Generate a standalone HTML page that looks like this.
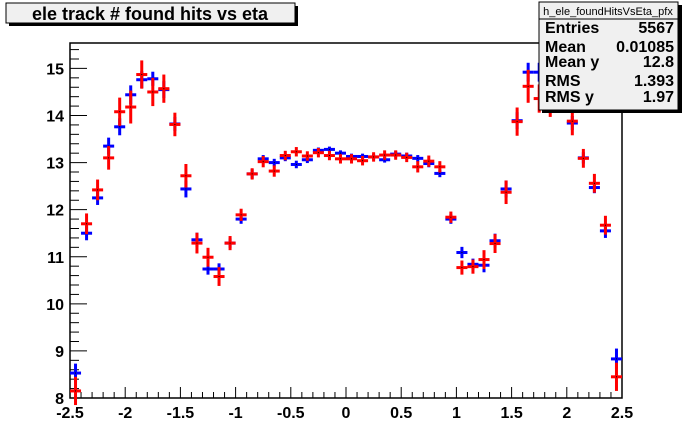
<!DOCTYPE html>
<html><head><meta charset="utf-8"><style>
html,body{margin:0;padding:0;background:#fff;}
svg{display:block;font-family:"Liberation Sans",Arial,sans-serif;font-weight:bold;}
</style></head><body>
<svg id="chart" width="692" height="444" viewBox="0 0 692 444">
<rect x="0" y="0" width="692" height="444" fill="#fff"/>
<g>
<rect x="9" y="6" width="289" height="20" fill="#000"/>
<rect x="6" y="3" width="289" height="20" fill="#f0f0f0" stroke="#000" stroke-width="1"/>
<text x="150" y="20" text-anchor="middle" font-size="18">ele track # found hits vs eta</text>
</g>
<g id="axes"></g>
<g id="marks"></g>
<g>
<rect x="542" y="5" width="140" height="108" fill="#000"/>
<rect x="539" y="2" width="139" height="108" fill="#f0f0f0" stroke="#000" stroke-width="1"/>
<line x1="539" y1="19" x2="678" y2="19" stroke="#000" stroke-width="1"/>
<text x="608" y="15" text-anchor="middle" font-size="11" font-weight="normal">h_ele_foundHitsVsEta_pfx</text>
<text x="545" y="33" font-size="16">Entries</text><text x="674" y="33" font-size="16" text-anchor="end">5567</text>
<text x="545" y="52" font-size="16">Mean</text><text x="674" y="52" font-size="16" text-anchor="end">0.01085</text>
<text x="545" y="67" font-size="16">Mean y</text><text x="674" y="67" font-size="16" text-anchor="end">12.8</text>
<text x="545" y="86" font-size="16">RMS</text><text x="674" y="86" font-size="16" text-anchor="end">1.393</text>
<text x="545" y="102" font-size="16">RMS y</text><text x="674" y="102" font-size="16" text-anchor="end">1.97</text>
</g>
</svg>
<script>
const bins = [-2.45,-2.35,-2.25,-2.15,-2.05,-1.95,-1.85,-1.75,-1.65,-1.55,-1.45,-1.35,-1.25,-1.15,-1.05,-0.95,-0.85,-0.75,-0.65,-0.55,-0.45,-0.35,-0.25,-0.15,-0.05,0.05,0.15,0.25,0.35,0.45,0.55,0.65,0.75,0.85,0.95,1.05,1.15,1.25,1.35,1.45,1.55,1.65,1.75,1.85,1.95,2.05,2.15,2.25,2.35,2.45];
const blueVals = [8.53,11.50,12.25,13.35,13.76,14.44,14.76,14.78,14.55,13.82,12.44,11.36,10.74,10.74,11.29,11.80,12.76,13.08,13.00,13.10,12.96,13.06,13.26,13.28,13.20,13.13,13.13,13.12,13.06,13.18,13.14,13.09,12.98,12.77,11.80,11.09,10.84,10.82,11.34,12.44,13.89,14.92,14.92,14.45,14.70,13.84,13.10,12.47,11.55,8.83];
const redVals = [8.15,11.70,12.42,13.10,14.08,14.18,14.87,14.50,14.57,13.81,12.72,11.29,10.99,10.58,11.29,11.89,12.76,13.02,12.82,13.15,13.23,13.14,13.21,13.15,13.08,13.08,13.04,13.12,13.16,13.16,13.11,12.91,13.03,12.91,11.84,10.77,10.79,10.94,11.28,12.37,13.87,14.62,14.36,14.32,14.52,13.88,13.09,12.56,11.67,8.45];
const blueErr = [0.2,0.15,0.15,0.18,0.18,0.2,0.18,0.15,0.18,0.15,0.18,0.15,0.12,0.12,0.1,0.1,0.1,0.08,0.08,0.07,0.08,0.07,0.06,0.06,0.06,0.06,0.06,0.06,0.06,0.07,0.07,0.07,0.08,0.08,0.1,0.12,0.12,0.15,0.15,0.18,0.18,0.2,0.2,0.2,0.2,0.15,0.12,0.12,0.15,0.22];
const redErr = [0.3,0.22,0.22,0.25,0.3,0.35,0.3,0.3,0.3,0.25,0.25,0.22,0.2,0.2,0.15,0.13,0.12,0.12,0.12,0.1,0.1,0.1,0.1,0.1,0.1,0.1,0.1,0.1,0.1,0.1,0.1,0.12,0.12,0.12,0.12,0.15,0.15,0.2,0.2,0.25,0.3,0.35,0.3,0.35,0.25,0.3,0.2,0.2,0.2,0.3];
const xTicks = [-2.5,-2,-1.5,-1,-0.5,0,0.5,1,1.5,2,2.5];
const xTickLabels = ["-2.5","-2","-1.5","-1","-0.5","0","0.5","1","1.5","2","2.5"];
const yTicks = [8,9,10,11,12,13,14,15];
const yTickLabels = ["8","9","10","11","12","13","14","15"];

const X0=70, X1=622, Y0=398, Y1=43, XMIN=-2.5, XMAX=2.5, YMIN=8, YMAX=15.54;
const NS='http://www.w3.org/2000/svg';
function xs(v){return X0+(v-XMIN)/(XMAX-XMIN)*(X1-X0);}
function ys(v){return Y0-(v-YMIN)/(YMAX-YMIN)*(Y0-Y1);}
function mk(tag,attrs,parent){const e=document.createElementNS(NS,tag);for(const k in attrs)e.setAttribute(k,attrs[k]);parent.appendChild(e);return e;}
const axes=document.getElementById('axes');
const frame=mk('rect',{x:X0,y:Y1,width:X1-X0,height:Y0-Y1,fill:'none',stroke:'#000','stroke-width':1.5},axes);


for(let i=0;i<=50;i++){const v=XMIN+i*0.1;const major=(i%5===0);
 const t=mk('line',{x1:xs(v),x2:xs(v),y1:Y0,y2:Y0-(major?11:6),stroke:'#000','stroke-width':1},axes);
 
 }
xTicks.forEach((v,i)=>{const t=mk('text',{x:xs(v),y:Y0+20,'text-anchor':'middle','font-size':16},axes);t.textContent=xTickLabels[i];
 
 });
for(let i=0;;i++){const v=YMIN+i*0.2;if(v>YMAX+1e-9)break;const major=(Math.abs(v-Math.round(v))<1e-6);
 const t=mk('line',{x1:X0,x2:X0+(major?17:9),y1:ys(v),y2:ys(v),stroke:'#000','stroke-width':1},axes);
 
 }
yTicks.forEach((v,i)=>{const t=mk('text',{x:X0-6,y:ys(v)+6,'text-anchor':'end','font-size':16},axes);t.textContent=yTickLabels[i];
 
 });
const marks=document.getElementById('marks');
function series(vals,errs,color,name){
 const g=mk('g',{},marks);
 
 
 vals.forEach((v,i)=>{const cx=xs(bins[i]),cy=ys(v);
  const p=mk('g',{},g);
  
  
  mk('line',{x1:xs(bins[i]-0.05),x2:xs(bins[i]+0.05),y1:cy,y2:cy,stroke:color,'stroke-width':3},p);
  mk('line',{x1:cx,x2:cx,y1:ys(v-errs[i]),y2:ys(v+errs[i]),stroke:color,'stroke-width':3},p);
  mk('rect',{x:cx-0.5,y:cy-0.5,width:1,height:1,fill:'#000'},p);
 });
}
series(blueVals,blueErr,'#0000ff','blue-series');
series(redVals,redErr,'#ff0000','red-series');
</script>
</body></html>
